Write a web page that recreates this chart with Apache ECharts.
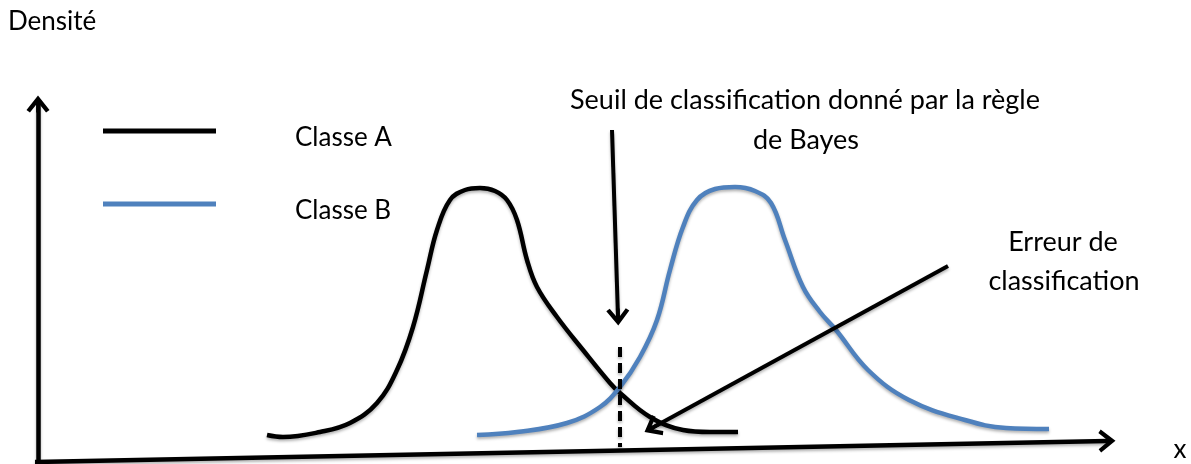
<!DOCTYPE html>
<html>
<head>
<meta charset="utf-8">
<script src="https://cdn.jsdelivr.net/npm/echarts@6/dist/echarts.min.js"></script>
<style>
  html, body { margin: 0; padding: 0; background: #fff; }
  #main { width: 1191px; height: 464px; }
</style>
</head>
<body>
<div id="main"></div>
<script>
// courbes de densité (x, densité)
const classeA_x = [267, 283, 320, 350, 377, 397, 413, 427, 437, 450, 465, 480, 495, 507, 517, 527, 537, 557, 583, 610, 620, 650, 683, 710, 738];
const classeA_y = [29, 27, 32, 41, 61, 94, 137, 194, 234, 264, 274, 276, 273, 264, 244, 204, 177, 147, 114, 81, 71, 47, 34, 32, 32];

const classeB_x = [477, 517, 567, 600, 620, 640, 657, 670, 683, 697, 715, 735, 755, 771, 785, 803, 820, 836, 868, 909, 965, 1006, 1049];
const classeB_y = [29, 32, 41, 57, 77, 107, 144, 194, 237, 264, 275, 277, 273, 261, 224, 177, 152, 134, 94, 64, 44, 36, 35];

// flèches : [départ, arrivée]
const axeDensite = [[38, 4], [38, 360]];
const axeX = [[35, 2], [1107, 23]];
const flecheSeuil = [[612, 334], [618, 147]];
const flecheErreur = [[948, 198], [652, 36]];
const seuil = [[620, 117], [620, 17]];

const FONT = 'Lato';
const chevron = 'path://M10,0 L20,12 L17,14 L11.6,7.6 L11.6,14 L8.4,14 L8.4,7.6 L3,14 L0,12 Z';
const shadow = { shadowColor: 'rgba(0,0,0,0.3)', shadowBlur: 3, shadowOffsetY: 2 };

const zip = (xs, ys) => xs.map((x, i) => [x, ys[i]]);

const arrow = (pts, width) => [
	{ coord: pts[0], symbol: 'none' },
	{ coord: pts[1], symbol: chevron, symbolSize: [23, 17], lineStyle: { width } },
];

const txt = (text, x, y, size, align) => ({
	type: 'text',
	style: { text, x, y, font: size + 'px ' + FONT, fill: '#000', textAlign: align, textVerticalAlign: 'middle' },
});

const chart = echarts.init(document.getElementById('main'));

const option = {
	animation: false,
	grid: { left: 0, right: 0, top: 0, bottom: 0 },
	xAxis: { type: 'value', min: 0, max: 1191, show: false },
	yAxis: { type: 'value', min: 0, max: 464, show: false },
	legend: {
		data: ['Classe A', 'Classe B'],
		orient: 'vertical',
		left: 98,
		top: 120,
		icon: 'rect',
		itemWidth: 113,
		itemHeight: 5,
		itemGap: 47,
		selectedMode: false,
		formatter: '{t|{name}}',
		textStyle: {
			rich: { t: { fontFamily: FONT, fontSize: 26, color: '#000', lineHeight: 40, verticalAlign: 'bottom', padding: [0, 0, 0, 74] } },
		},
	},
	graphic: [
		txt('Densité', 8, 22, 26, 'left'),
		txt('Seuil de classification donné par la règle', 805, 100, 27, 'center'),
		txt('de Bayes', 806, 140, 27, 'center'),
		txt('Erreur de', 1063, 242, 27, 'center'),
		txt('classification', 1064, 281, 27, 'center'),
		txt('x', 1180, 450, 26, 'center'),
	],
	series: [
		{
			name: 'Classe A',
			type: 'line',
			smooth: 0.4,
			symbol: 'none',
			color: '#000',
			lineStyle: { width: 4.5, color: '#000', ...shadow },
			data: zip(classeA_x, classeA_y),
		},
		{
			name: 'Classe B',
			type: 'line',
			smooth: 0.4,
			symbol: 'none',
			color: '#4F81BD',
			lineStyle: { width: 4.5, color: '#4F81BD', ...shadow },
			data: zip(classeB_x, classeB_y),
		},
		{
			name: 'fleches',
			type: 'line',
			data: [],
			markLine: {
				silent: true,
				symbol: ['none', 'none'],
				label: { show: false },
				lineStyle: { color: '#000', type: 'solid', width: 4.5, ...shadow },
				itemStyle: { color: '#000' },
				data: [
					arrow(axeDensite, 4.5),
					arrow(axeX, 4.5),
					arrow(flecheSeuil, 4),
					arrow(flecheErreur, 4),
					[
						{ coord: seuil[0], symbol: 'none' },
						{ coord: seuil[1], symbol: 'none', lineStyle: { width: 4, type: [10, 6] } },
					],
				],
			},
		},
	],
};

chart.setOption(option);
</script>
</body>
</html>
